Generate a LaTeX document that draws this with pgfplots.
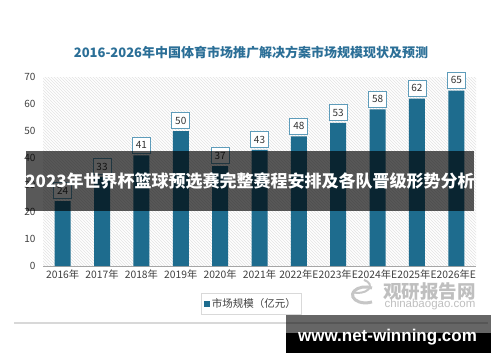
\documentclass[border=0pt]{standalone}
\usepackage{fontspec}
\setmainfont{Noto Sans CJK SC}
\newfontfamily\latinfont{Liberation Sans}
\usepackage{pgfplots}
\pgfplotsset{compat=1.18}
\usetikzlibrary{patterns,shadows}
\definecolor{barblue}{HTML}{1E6C8E}
\definecolor{titleblue}{HTML}{2B6F97}
\definecolor{boxblue}{HTML}{5E9CBA}
\definecolor{ticktext}{HTML}{404040}
\begin{document}
\begin{tikzpicture}[x=1pt,y=1pt]
\useasboundingbox (0pt,0pt) rectangle (500pt,362pt);
\fill[white] (0pt,0pt) rectangle (500pt,362pt);
\fill[white, drop shadow={opacity=0.3,shadow xshift=0pt,shadow yshift=-1.5pt}] (14pt,40pt) rectangle (488pt,325pt);
\node[font=\bfseries\fontsize{13}{13}\selectfont, text=titleblue] at (251pt,309pt) {2016-2026年中国体育市场推广解决方案市场规模现状及预测};
\begin{axis}[
  at={(43pt,96pt)}, anchor=south west, scale only axis,
  width=433pt, height=189pt,
  xmin=-0.5, xmax=10.5, ymin=0, ymax=70,
  ytick={0,10,...,70},
  xtick={0,...,10},
  xticklabels={2016年,2017年,2018年,2019年,2020年,2021年,2022年E,2023年E,2024年E,2025年E,2026年E},
  axis lines*=left,
  y axis line style={draw=none},
  x axis line style={draw=gray!70, line width=0.8pt},
  tick style={draw=none},
  /pgf/number format/assume math mode=true,
  ticklabel style={font=\fontsize{10}{10}\selectfont, text=ticktext},
  xticklabel style={font=\fontsize{10.3}{10.3}\selectfont},
  yticklabel style={xshift=-4pt},
  axis background/.style={pattern=north west lines, pattern color=gray!22},
  legend style={at={(0.48,-0.2)}, anchor=center, draw=gray!30, font=\fontsize{10.5}{10.5}\selectfont, text=ticktext, inner sep=3pt},
  legend image code/.code={\fill[barblue] (0pt,-3pt) rectangle (6pt,3pt);},
]
\addplot[ybar, bar width=16pt, fill=barblue, draw=none,
  nodes near coords,
  every node near coord/.append style={draw=boxblue, fill=white, font=\fontsize{10}{10}\selectfont, text=black!80, inner sep=1pt, minimum width=18pt, minimum height=16pt, yshift=2pt, line width=0.8pt}]
coordinates {(0,24) (1,33) (2,41) (3,50) (4,37) (5,43) (6,48) (7,53) (8,58) (9,62) (10,65)};
\addlegendentry{市场规模（亿元）}
\end{axis}
% overlay banner
\fill[black, opacity=0.65] (26pt,151pt) rectangle (474pt,211pt);
\node[font=\bfseries\fontsize{17}{17}\selectfont, text=white] at (250pt,181pt) {2023年世界杯篮球预选赛完整赛程安排及各队晋级形势分析};
% watermark
\draw[gray!45, line width=3pt] (372pt,74pt) arc (60:300:13pt and 8pt);
\draw[gray!45, line width=2pt] (352pt,70pt) arc (240:420:12pt and 7pt);
\node[font=\bfseries\fontsize{18.5}{18.5}\selectfont, text=gray!50] at (429.5pt,70pt) {观研报告网};
\node[font=\latinfont\fontsize{11.5}{11.5}\selectfont, text=gray!50] at (430pt,57pt) {chinabaogao.com};
% bottom banner
\fill[black, opacity=0.6] (286pt,29pt) rectangle (491pt,47pt);
\fill[black] (286pt,9pt) rectangle (491pt,29pt);
\node[font=\latinfont\bfseries\fontsize{17}{17}\selectfont, text=white] at (387.5pt,25pt) {www.net-winning.com};
\end{tikzpicture}
\end{document}
